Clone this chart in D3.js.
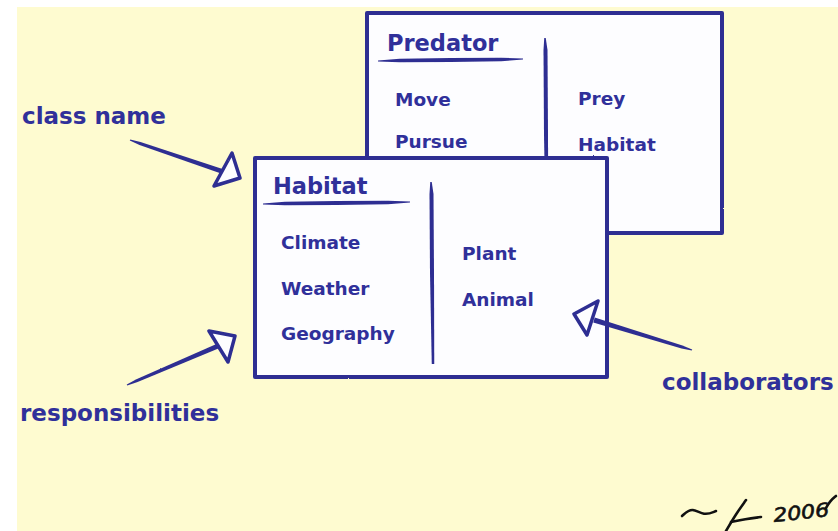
<!DOCTYPE html>
<html>
<head>
<meta charset="utf-8">
<script src="https://cdn.jsdelivr.net/npm/d3@7"></script>
<style>
  html, body { margin: 0; padding: 0; background: #fff; }
  svg text { font-family: "DejaVu Sans", Verdana, sans-serif; font-weight: bold; fill: #30309a; }
</style>
</head>
<body>
<div id="chart"></div>
<script>
// CRC card content
var cardNames = ["Predator", "Habitat"];
var predatorResponsibilities = ["Move", "Pursue"];
var predatorCollaborators = ["Prey", "Habitat"];
var habitatResponsibilities = ["Climate", "Weather", "Geography"];
var habitatCollaborators = ["Plant", "Animal"];
var annotationLabels = ["class name", "responsibilities", "collaborators"];
var signatureYear = "2006";

var W = 838, H = 531;
var ink = "#2e2e92";
var paper = "#fefbd0";

// layout (pixel positions, kept apart from the content above)
var layout = {
  "Predator": { box: [367, 13, 722, 233], title: [387, 51], line: [378, 523, 60],
                divider: [546, 38, 232], resp: [395, 106, 42], collab: [578, 105, 46] },
  "Habitat":  { box: [255, 158, 607, 377], title: [273, 194], line: [263, 410, 203],
                divider: [432, 182, 364], resp: [281, 249, 45.5], collab: [462, 260, 46] }
};
var content = {
  "Predator": { resp: predatorResponsibilities, collab: predatorCollaborators },
  "Habitat":  { resp: habitatResponsibilities,  collab: habitatCollaborators }
};

var svg = d3.select("#chart").append("svg")
    .attr("width", W).attr("height", H);

// rough edge filter for the brush strokes
var defs = svg.append("defs");
var f = defs.append("filter").attr("id", "rough")
    .attr("x", "-5%").attr("y", "-5%").attr("width", "110%").attr("height", "110%");
f.append("feTurbulence").attr("type", "fractalNoise").attr("baseFrequency", 0.6)
    .attr("numOctaves", 1).attr("seed", 3).attr("result", "noise");
f.append("feDisplacementMap").attr("in", "SourceGraphic").attr("in2", "noise")
    .attr("scale", 1.6).attr("xChannelSelector", "R").attr("yChannelSelector", "G");

// paper
svg.append("rect").attr("x", 17).attr("y", 7).attr("width", W - 17).attr("height", H - 7)
    .attr("fill", paper);

// tapered brush stroke along a polyline
function brush(pts, widths) {
  var left = [], right = [];
  pts.forEach(function (p, i) {
    var a = pts[Math.max(0, i - 1)], b = pts[Math.min(pts.length - 1, i + 1)];
    var dx = b[0] - a[0], dy = b[1] - a[1], len = Math.sqrt(dx * dx + dy * dy) || 1;
    var nx = -dy / len, ny = dx / len, w = widths[i] / 2;
    left.push([p[0] + nx * w, p[1] + ny * w]);
    right.unshift([p[0] - nx * w, p[1] - ny * w]);
  });
  return d3.line().curve(d3.curveLinearClosed)(left.concat(right));
}

function drawCard(name) {
  var L = layout[name], C = content[name];
  var g = svg.append("g").attr("class", "card");
  var x = d3.scaleLinear().domain([0, 1]).range([L.box[0], L.box[2]]);
  var y = d3.scaleLinear().domain([0, 1]).range([L.box[1], L.box[3]]);

  g.append("rect")
      .attr("x", x(0)).attr("y", y(0))
      .attr("width", x(1) - x(0)).attr("height", y(1) - y(0))
      .attr("fill", "#fdfdff").attr("stroke", ink).attr("stroke-width", 4)
      .attr("stroke-linejoin", "round").attr("filter", "url(#rough)");

  // title and its underline
  g.append("text").attr("x", L.title[0]).attr("y", L.title[1])
      .style("font-size", "22.5px").style("font-weight", "bold").text(name);
  var lx = d3.scaleLinear().domain([0, 1]).range([L.line[0], L.line[1]]);
  g.append("path")
      .attr("d", brush([[lx(0), L.line[2] + 1], [lx(0.15), L.line[2] + 0.5], [lx(0.5), L.line[2]],
                        [lx(0.85), L.line[2] - 0.5], [lx(1), L.line[2] - 1]],
                       [1.2, 3.5, 4, 3.5, 1]))
      .attr("fill", ink).attr("filter", "url(#rough)");

  // divider between responsibilities and collaborators
  var dm = (L.divider[1] + L.divider[2]) / 2;
  g.append("path")
      .attr("d", brush([[L.divider[0] - 1, L.divider[1]], [L.divider[0] - 0.5, L.divider[1] + 12],
                        [L.divider[0], dm], [L.divider[0] + 1, L.divider[2]]],
                       [1.5, 4, 4, 2.5]))
      .attr("fill", ink).attr("filter", "url(#rough)");

  var ry = d3.scaleLinear().domain([0, 1]).range([L.resp[1], L.resp[1] + L.resp[2]]);
  g.selectAll("text.resp").data(C.resp).enter().append("text")
      .attr("class", "resp").attr("x", L.resp[0]).attr("y", function (d, i) { return ry(i); })
      .style("font-size", "18.5px").text(function (d) { return d; });

  var cy = d3.scaleLinear().domain([0, 1]).range([L.collab[1], L.collab[1] + L.collab[2]]);
  g.selectAll("text.collab").data(C.collab).enter().append("text")
      .attr("class", "collab").attr("x", L.collab[0]).attr("y", function (d, i) { return cy(i); })
      .style("font-size", "18.5px").text(function (d) { return d; });
}

cardNames.forEach(drawCard);

// annotation labels with their arrows
var labelPos = [[22, 124], [20, 421], [662, 390]];
var arrowShafts = [
  [[130, 140], [140, 143.5], [224, 172]],
  [[127, 385], [137, 380.7], [218, 346]],
  [[692, 350], [682, 347], [594, 320]]
];
var arrowHeads = [
  [[232, 153], [240, 178], [214, 186]],
  [[209, 331], [235, 336], [228, 362]],
  [[598, 301], [574, 314], [587, 335]]
];

svg.selectAll("text.note").data(annotationLabels).enter().append("text")
    .attr("class", "note")
    .attr("x", function (d, i) { return labelPos[i][0]; })
    .attr("y", function (d, i) { return labelPos[i][1]; })
    .style("font-size", "23px").text(function (d) { return d; });

svg.selectAll("path.shaft").data(arrowShafts).enter().append("path")
    .attr("class", "shaft")
    .attr("d", function (d) { return brush(d, [1.2, 3, 5]); })
    .attr("fill", ink).attr("filter", "url(#rough)");

svg.selectAll("path.head").data(arrowHeads).enter().append("path")
    .attr("class", "head")
    .attr("d", d3.line().curve(d3.curveLinearClosed))
    .attr("fill", "#fdfdff").attr("stroke", ink).attr("stroke-width", 3.5)
    .attr("stroke-linejoin", "round").attr("filter", "url(#rough)");

// signature
var sig = svg.append("g").attr("fill", "none").attr("stroke", "#111")
    .attr("stroke-linecap", "round").attr("stroke-width", 2.6);
var scribble = d3.line().curve(d3.curveBasis);
sig.append("path").attr("d", scribble([[682, 516], [692, 507], [704, 516], [716, 511]]));
sig.append("path").attr("d", scribble([[746, 500], [736, 514], [726, 531]]));
sig.append("path").attr("d", scribble([[731, 522], [745, 519], [761, 517]]));
svg.append("text").attr("x", 774).attr("y", 522)
    .style("font-family", "DejaVu Sans, sans-serif").style("font-style", "italic")
    .style("font-weight", "normal").style("font-size", "19px").style("fill", "#111")
    .style("stroke", "#111").style("stroke-width", 0.6)
    .attr("textLength", 56).attr("lengthAdjust", "spacingAndGlyphs")
    .attr("transform", "rotate(-6,774,522)")
    .text(signatureYear);
sig.append("path").attr("d", scribble([[826, 508], [830, 501], [836, 496]]));
</script>
</body>
</html>
